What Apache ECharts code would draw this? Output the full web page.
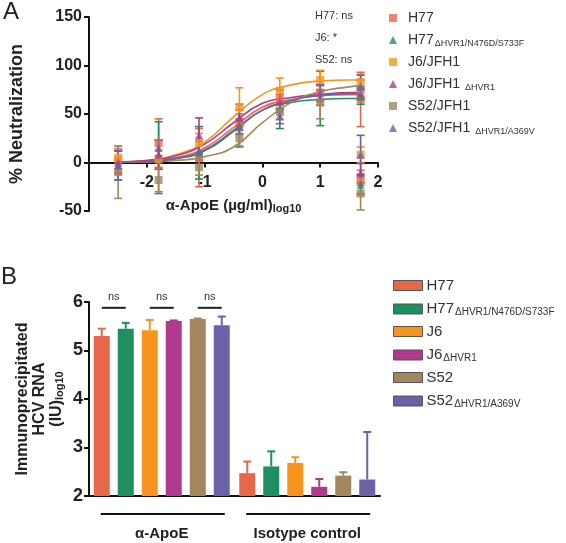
<!DOCTYPE html>
<html><head><meta charset="utf-8">
<script src="https://cdn.jsdelivr.net/npm/echarts@6/dist/echarts.min.js"></script>
<style>html,body{margin:0;padding:0;background:#fff}#c{width:566px;height:543px}</style>
</head><body><div id="c"></div><script>
// ---------- DATA: panel A (neutralization) ----------
const doses = [-2.495, -1.796, -1.097, -0.398, 0.301, 1.0, 1.699];
const namesA = ['H77', 'H77|ΔHVR1/N476D/S733F', 'J6/JFH1', 'J6/JFH1 |ΔHVR1', 'S52/JFH1', 'S52/JFH1 |ΔHVR1/A369V'];
const meanH77   = [2, 20, 5, 40, 65, 72, 65];
const errH77    = [12, 25, 30, 10, 10, 8, 28];
const meanH77d  = [-3, 5, 10, 38, 55, 66, 68];
const errH77d   = [15, 37, 27, 22, 20, 28, 8];
const meanJ6    = [5, 3, 20, 57, 74, 85, 83];
const errJ6     = [12, 10, 10, 20, 13, 10, 8];
const meanJ6d   = [0, 8, 28, 46, 62, 67, 72];
const errJ6d    = [12, 15, 18, 8, 8, 8, 6];
const meanS52   = [-10, -18, -5, 25, 52, 62, 75];
const errS52    = [27, 12, 8, 8, 8, 17, 10];
const meanS52d  = [-3, 15, 12, 37, 48, 72, 78];
const errS52d   = [15, 8, 10, 8, 8, 8, 12];
// second (low) cluster of points at the highest dose
const lowDose = 1.699;
const lowMean = [-20, -23, 8, -11, -32, 8];
const lowErr  = [12, 10, 8, 10, 17, 20];
// fitted curves
const curveX     = [-2.5, -2, -1.5, -1, -0.5, 0, 0.5, 1, 1.5, 1.7];
const curveH77   = [0.3, 1.5, 5, 15, 36, 57, 65, 69, 70, 70];
const curveH77d  = [0.3, 1, 4, 12, 32, 54, 62, 65, 66, 66];
const curveJ6    = [0.5, 2, 8, 21, 47, 70, 80, 84, 85, 85];
const curveJ6d   = [0.5, 2, 7, 19, 41, 61, 67, 70, 72, 72];
const curveS52   = [0, 0.5, 2, 6, 16, 41, 62, 73, 78, 79];
const curveS52d  = [0.3, 1, 4, 13, 33, 54, 64, 69, 71, 71];
const yTicksA = [-50, 0, 50, 100, 150];
const xTicksA = [-2, -1, 0, 1, 2];
const statLines = ['H77: ns', 'J6: *', 'S52: ns'];

// ---------- DATA: panel B (immunoprecipitation) ----------
const groupsB = ['α-ApoE', 'Isotype control'];
const namesB = ['H77', 'H77|ΔHVR1/N476D/S733F', 'J6', 'J6|ΔHVR1', 'S52', 'S52|ΔHVR1/A369V'];
const apoE    = [5.30, 5.45, 5.42, 5.61, 5.65, 5.52];
const apoEErr = [0.15, 0.12, 0.21, 0.01, 0.01, 0.18];
const iso     = [2.47, 2.61, 2.68, 2.19, 2.42, 2.34];
const isoErr  = [0.24, 0.31, 0.12, 0.16, 0.07, 0.98];
const nsPairs = [[0, 1], [2, 3], [4, 5]];

const colors = ['#E8674A', '#1E9060', '#F7941E', '#B23A8E', '#A3865E', '#6C60A8'];
const symbolsA = ['rect', 'triangle', 'rect', 'triangle', 'rect', 'triangle'];
const FONT = 'Liberation Sans, Arial, sans-serif';

const meansA = [meanH77, meanH77d, meanJ6, meanJ6d, meanS52, meanS52d];
const errsA = [errH77, errH77d, errJ6, errJ6d, errS52, errS52d];
const curvesA = [curveH77, curveH77d, curveJ6, curveJ6d, curveS52, curveS52d];

function richName(n) {
  const p = n.split('|');
  return p.length > 1 ? '{m|' + p[0] + '}{s|' + p[1] + '}' : '{m|' + p[0] + '}';
}
const richLegend = {
  m: {fontSize: 14, lineHeight: 16, color: '#333', fontFamily: FONT},
  s: {fontSize: 9, lineHeight: 9, padding: [7, 0, 0, 1], verticalAlign: 'bottom', color: '#333', fontFamily: FONT}
};

function errBarRender(color, cap, lw, upOnly, offsetFn) {
  return function (params, api) {
    const x = api.value(0), y = api.value(1), e = api.value(2);
    let top = api.coord([x, y + e]);
    let mid = api.coord([x, y]);
    let bot = upOnly ? mid : api.coord([x, y - e]);
    const off = offsetFn ? offsetFn(api) : 0;
    const cx = top[0] + off;
    const st = {stroke: color, lineWidth: lw};
    const ch = [
      {type: 'line', shape: {x1: cx, y1: top[1], x2: cx, y2: bot[1]}, style: st},
      {type: 'line', shape: {x1: cx - cap, y1: top[1], x2: cx + cap, y2: top[1]}, style: st}
    ];
    if (!upOnly) ch.push({type: 'line', shape: {x1: cx - cap, y1: bot[1], x2: cx + cap, y2: bot[1]}, style: st});
    return {type: 'group', children: ch};
  };
}

const series = [];
// Panel A
for (let i = 0; i < 6; i++) {
  series.push({
    type: 'line', xAxisIndex: 0, yAxisIndex: 0, name: 'curveA' + i, smooth: true, showSymbol: false,
    lineStyle: {color: colors[i], width: 1.6}, data: curveX.map((x, k) => [x, curvesA[i][k]]), z: 3, silent: true
  });
  const eData = doses.map((d, k) => [d, meansA[i][k], errsA[i][k]]);
  eData.push([lowDose, lowMean[i], lowErr[i]]);
  series.push({
    type: 'custom', xAxisIndex: 0, yAxisIndex: 0, name: 'errA' + i,
    renderItem: errBarRender(colors[i], 4, 1.6, false), encode: {x: 0, y: 1}, data: eData, z: 2
  });
  const pts = doses.map((d, k) => [d, meansA[i][k]]);
  pts.push([lowDose, lowMean[i]]);
  series.push({
    type: 'scatter', xAxisIndex: 0, yAxisIndex: 0, name: 'a' + i, symbol: symbolsA[i], symbolSize: 8,
    itemStyle: {color: colors[i]}, data: pts, z: 4
  });
}
// Panel B
const BAR_W = 16, BAR_STEP = 24;
for (let i = 0; i < 6; i++) {
  series.push({
    type: 'bar', xAxisIndex: 1, yAxisIndex: 1, name: 'b' + i, barWidth: BAR_W, barGap: '50%',
    itemStyle: {color: colors[i]}, data: [apoE[i], iso[i]], z: 2
  });
}
for (let i = 0; i < 6; i++) {
  series.push({
    type: 'custom', xAxisIndex: 1, yAxisIndex: 1, name: 'errB' + i,
    renderItem: errBarRender(colors[i], 4, 2, true, () => (i - 2.5) * BAR_STEP),
    encode: {x: 0, y: 1}, data: [[0, apoE[i], apoEErr[i]], [1, iso[i], isoErr[i]]], z: 1
  });
}

const GRID_A_H = 194, Y_MIN_A = -50, Y_MAX_A = 150;
const axisLineStyle = {color: '#111', width: 2};
const option = {
  animation: false,
  backgroundColor: '#fff',
  textStyle: {fontFamily: FONT},
  grid: [
    {left: 88, right: 188, top: 17, height: GRID_A_H},
    {left: 89, right: 186, top: 302, height: 194}
  ],
  xAxis: [
    {
      type: 'value', gridIndex: 0, min: -3, max: 2, interval: 1,
      // place the x axis at y = 0
      offset: -GRID_A_H * (0 - Y_MIN_A) / (Y_MAX_A - Y_MIN_A),
      axisLine: {onZero: false, lineStyle: axisLineStyle},
      axisTick: {length: 5, lineStyle: {width: 2, color: '#111'}},
      splitLine: {show: false},
      axisLabel: {fontSize: 16, fontWeight: 'bold', color: '#222', margin: 12,
        formatter: v => xTicksA.indexOf(v) >= 0 ? String(v) : ''},
      name: '{m|α-ApoE (µg/ml)}{s|log10}', nameLocation: 'middle', nameGap: 34, nameMoveOverlap: false,
      nameTextStyle: {rich: {
        m: {fontSize: 15, fontWeight: 'bold', color: '#222', lineHeight: 18, fontFamily: FONT},
        s: {fontSize: 11, fontWeight: 'bold', color: '#222', lineHeight: 11, padding: [8, 0, 0, 0], verticalAlign: 'bottom', fontFamily: FONT}
      }}
    },
    {
      type: 'category', gridIndex: 1, data: groupsB,
      axisLine: {lineStyle: axisLineStyle}, axisTick: {show: false},
      axisLabel: {fontSize: 15, fontWeight: 'bold', color: '#222', margin: 30}
    }
  ],
  yAxis: [
    {
      type: 'value', gridIndex: 0, min: Y_MIN_A, max: Y_MAX_A, interval: 50,
      axisLine: {show: true, onZero: false, lineStyle: axisLineStyle},
      axisTick: {show: true, length: 5, lineStyle: {width: 2, color: '#111'}},
      splitLine: {show: false},
      axisLabel: {fontSize: 16, fontWeight: 'bold', color: '#222', margin: 7,
        formatter: v => yTicksA.indexOf(v) >= 0 ? String(v) : ''},
      name: '% Neutralization', nameLocation: 'middle', nameGap: 63, nameMoveOverlap: false,
      nameTextStyle: {fontSize: 18, fontWeight: 'bold', color: '#222'}
    },
    {
      type: 'value', gridIndex: 1, min: 2, max: 6, interval: 1,
      axisLine: {show: true, onZero: false, lineStyle: axisLineStyle},
      axisTick: {show: true, length: 5, lineStyle: {width: 2, color: '#111'}},
      splitLine: {show: false},
      axisLabel: {fontSize: 18, fontWeight: 'bold', color: '#222', margin: 6},
      name: '{m|Immunoprecipitated}\n{m|HCV RNA}\n{m|(IU)}{s|log10}', nameLocation: 'middle', nameGap: 24, nameMoveOverlap: false,
      nameTextStyle: {rich: {
        m: {fontSize: 16, fontWeight: 'bold', color: '#222', lineHeight: 17, fontFamily: FONT},
        s: {fontSize: 11, fontWeight: 'bold', color: '#222', lineHeight: 11, padding: [6, 0, 0, 0], verticalAlign: 'bottom', fontFamily: FONT}
      }}
    }
  ],
  legend: [
    {
      orient: 'vertical', left: 384, top: 6, itemWidth: 8, itemHeight: 8, itemGap: 7,
      data: namesA.map((n, i) => ({name: 'a' + i, icon: symbolsA[i]})),
      formatter: n => richName(namesA[+n.slice(1)]),
      textStyle: {rich: richLegend, padding: [0, 0, 0, 6]}, selectedMode: false
    },
    {
      orient: 'vertical', left: 388, top: 273, itemWidth: 29, itemHeight: 10, itemGap: 7,
      data: namesB.map((n, i) => ({name: 'b' + i, icon: 'rect'})),
      itemStyle: {borderColor: '#555', borderWidth: 1},
      formatter: n => richName(namesB[+n.slice(1)]),
      textStyle: {rich: {
        m: {fontSize: 15, lineHeight: 16, color: '#333', fontFamily: FONT},
        s: {fontSize: 10, lineHeight: 10, padding: [7, 0, 0, 1], verticalAlign: 'bottom', color: '#333', fontFamily: FONT}
      }, padding: [0, 0, 0, -1]}, selectedMode: false
    }
  ],
  series: series
};

const chart = echarts.init(document.getElementById('c'), null, {renderer: 'canvas'});
chart.setOption(option);

// annotations
const g = [];
g.push({type: 'text', left: 3, top: 0, style: {text: 'A', font: '24px ' + FONT, fill: '#222'}});
g.push({type: 'text', left: 1, top: 265, style: {text: 'B', font: '24px ' + FONT, fill: '#222'}});
statLines.forEach((t, k) => {
  g.push({type: 'text', left: 315, top: 10 + k * 22, style: {text: t, font: '11px ' + FONT, fill: '#333'}});
});
// group underlines in B
groupsB.forEach((c, k) => {
  const cx = chart.convertToPixel({xAxisIndex: 1}, c);
  const yy = chart.convertToPixel({yAxisIndex: 1}, 2) + 18;
  g.push({type: 'line', shape: {x1: cx - 61, y1: yy, x2: cx + 63, y2: yy}, style: {stroke: '#111', lineWidth: 2}});
});
// ns brackets
const c0 = chart.convertToPixel({xAxisIndex: 1}, groupsB[0]);
const yLine = chart.convertToPixel({yAxisIndex: 1}, 5.88);
nsPairs.forEach(p => {
  const x1 = c0 + (p[0] - 2.5) * BAR_STEP, x2 = c0 + (p[1] - 2.5) * BAR_STEP;
  g.push({type: 'line', shape: {x1: x1, y1: yLine, x2: x2, y2: yLine}, style: {stroke: '#222', lineWidth: 2}});
  g.push({type: 'text', x: (x1 + x2) / 2, y: yLine - 5, style: {text: 'ns', font: '11px ' + FONT, fill: '#333', textAlign: 'center', textVerticalAlign: 'bottom'}});
});
chart.setOption({graphic: g});
</script></body></html>
